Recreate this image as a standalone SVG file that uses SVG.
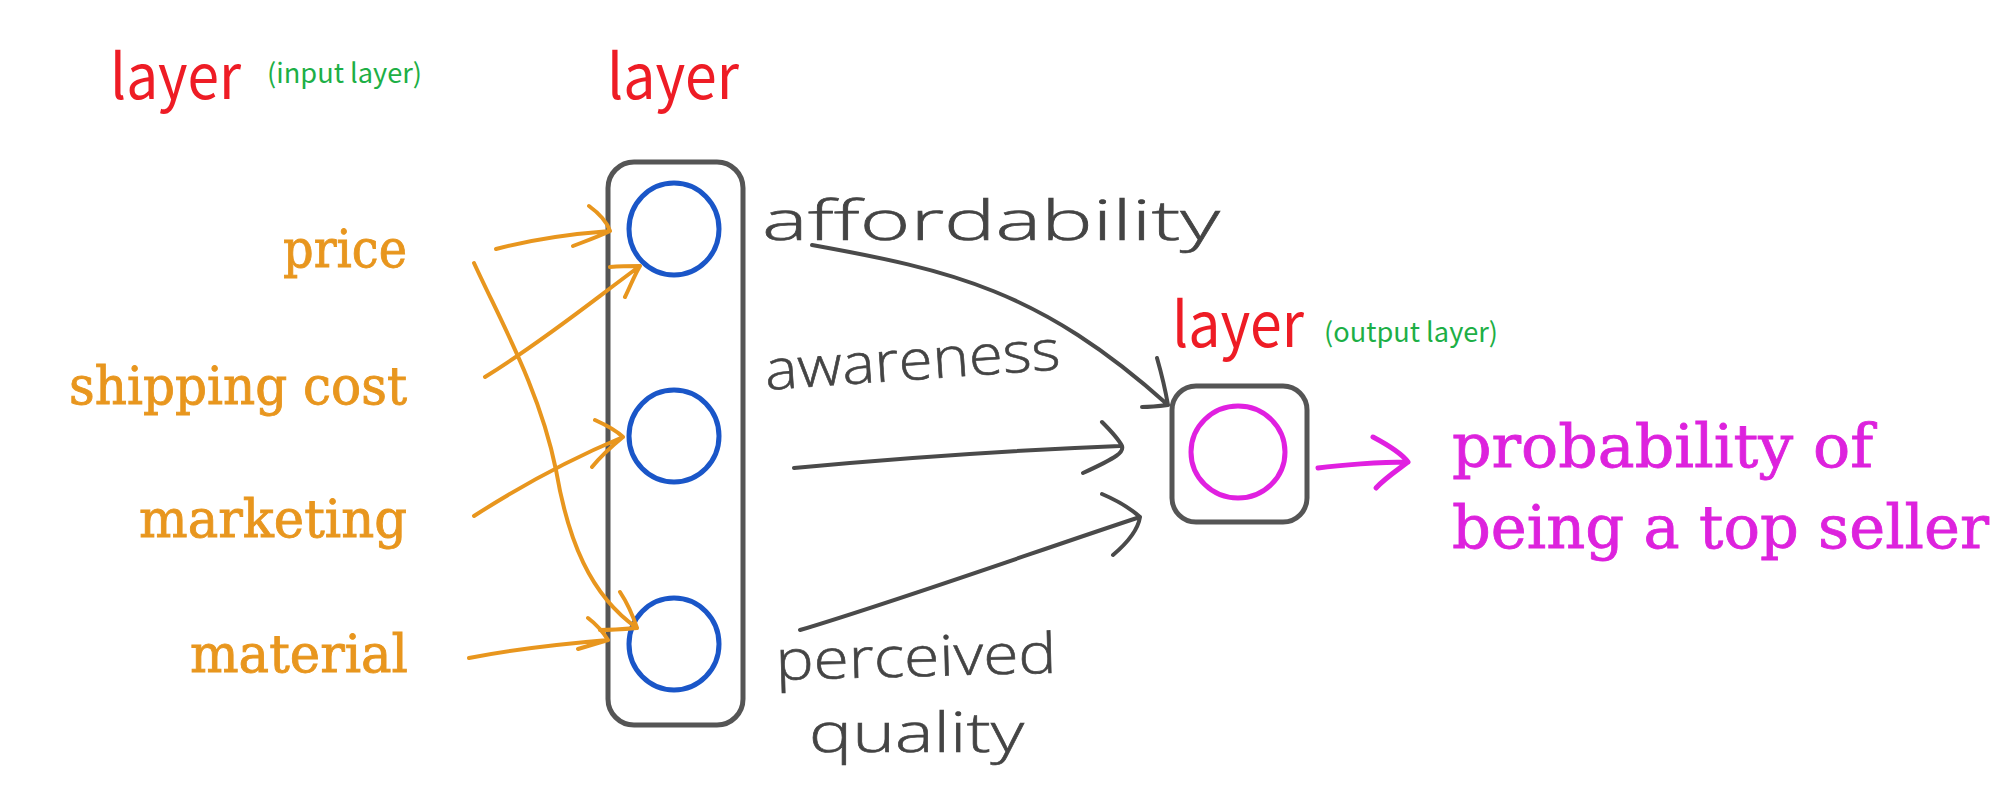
<svg xmlns="http://www.w3.org/2000/svg" width="2011" height="796" viewBox="0 0 2011 796">
<style>
.red{fill:#EE1C25;font-family:"Noto Sans CJK SC","Noto Sans",sans-serif;font-size:62px}
.green{fill:#1DAF46;font-family:"Noto Sans CJK SC","Noto Sans",sans-serif;font-size:27px}
.orange{fill:#E8961E;stroke:#E8961E;stroke-width:0.9;font-family:"DejaVu Serif",serif;font-size:53px}
.mag{fill:#DD22DD;stroke:#DD22DD;stroke-width:0.8;font-family:"DejaVu Serif",serif;font-size:60px}
.hand{fill:#444;stroke:#444;stroke-width:0.6;font-family:"Open Sans",sans-serif;font-weight:300;font-size:56px}
.box{fill:none;stroke:#555;stroke-width:5}
.blue{fill:none;stroke:#1A56C8;stroke-width:5}
.pink{fill:none;stroke:#E020E0;stroke-width:5}
.oa{fill:none;stroke:#E8961E;stroke-width:4;stroke-linecap:round;stroke-linejoin:round}
.ga{fill:none;stroke:#4a4a4a;stroke-width:4;stroke-linecap:round;stroke-linejoin:round}
.ma{fill:none;stroke:#E020E0;stroke-width:5;stroke-linecap:round;stroke-linejoin:round}
</style>
<rect width="2011" height="796" fill="#ffffff"/>
<g id="labels">
<text class="red" x="110" y="99" textLength="131" lengthAdjust="spacingAndGlyphs">layer</text>
<text class="green" x="267" y="83" textLength="155" lengthAdjust="spacingAndGlyphs">(input layer)</text>
<text class="red" x="607" y="99" textLength="132" lengthAdjust="spacingAndGlyphs">layer</text>
<text class="red" x="1172" y="347" textLength="132" lengthAdjust="spacingAndGlyphs">layer</text>
<text class="green" x="1324" y="342" textLength="174" lengthAdjust="spacingAndGlyphs">(output layer)</text>
</g>
<g id="inputs">
<text class="orange" x="283" y="267" textLength="124" lengthAdjust="spacingAndGlyphs">price</text>
<text class="orange" x="69" y="404" textLength="338" lengthAdjust="spacingAndGlyphs">shipping cost</text>
<text class="orange" x="139" y="537" textLength="268" lengthAdjust="spacingAndGlyphs">marketing</text>
<text class="orange" x="190" y="672" textLength="218" lengthAdjust="spacingAndGlyphs">material</text>
</g>
<g id="hidden-layer">
<rect class="box" x="608" y="162" width="135" height="563" rx="26"/>
<ellipse class="blue" cx="674" cy="229" rx="45" ry="46"/>
<ellipse class="blue" cx="674" cy="436" rx="45" ry="46"/>
<ellipse class="blue" cx="674" cy="644" rx="45" ry="46"/>
</g>
<g id="hidden-labels">
<text class="hand" x="762" y="240" textLength="458" lengthAdjust="spacingAndGlyphs">affordability</text>
<text class="hand" x="766" y="390" textLength="296" lengthAdjust="spacingAndGlyphs" transform="rotate(-4 766 390)">awareness</text>
<text class="hand" x="776" y="680" textLength="281" lengthAdjust="spacingAndGlyphs" transform="rotate(-1.5 776 680)">perceived</text>
<text class="hand" x="809" y="752" textLength="215" lengthAdjust="spacingAndGlyphs">quality</text>
</g>
<g id="output-layer">
<rect class="box" x="1172" y="386" width="135" height="136" rx="24"/>
<ellipse class="pink" cx="1238" cy="452" rx="47" ry="46"/>
</g>
<g id="output-label">
<text class="mag" x="1452" y="467" textLength="421" lengthAdjust="spacingAndGlyphs">probability of</text>
<text class="mag" x="1452" y="548" textLength="537" lengthAdjust="spacingAndGlyphs">being a top seller</text>
</g>
<g id="connectors">
<path class="oa" d="M496,249 C530,240 570,234 610,231 M589,206 C600,214 607,222 610,231 C600,236 586,241 573,246"/>
<path class="oa" d="M485,377 C545,340 600,295 640,266 M610,267 C622,266 632,266 640,266 C634,276 630,287 625,297"/>
<path class="oa" d="M474,516 C530,480 580,455 623,437 M595,420 C606,425 616,430 623,437 C612,446 601,456 592,467"/>
<path class="oa" d="M469,658 C510,650 560,644 608,640 M588,618 C596,624 603,632 608,640 C598,643 588,646 578,649"/>
<path class="oa" d="M474,263 C500,320 540,390 556,470 C568,540 590,595 637,628 M620,592 C628,604 633,616 637,628 C625,629 612,630 600,630"/>
<path class="ga" d="M812,245 C950,270 1040,290 1168,405 M1157,358 C1161,372 1165,388 1168,405 C1160,406 1151,407 1142,407"/>
<path class="ga" d="M794,468 C900,458 1020,450 1120,446 M1102,422 C1110,430 1118,438 1122,446 C1124,452 1118,457 1083,473"/>
<path class="ga" d="M800,630 C900,600 1040,550 1140,517 M1102,494 C1116,500 1130,508 1140,517 C1138,530 1126,544 1113,555"/>
<path class="ma" d="M1318,468 C1340,465 1380,462 1408,462 M1373,437 C1390,446 1402,454 1408,462 C1396,471 1384,479 1376,488"/>
</g>
</svg>
